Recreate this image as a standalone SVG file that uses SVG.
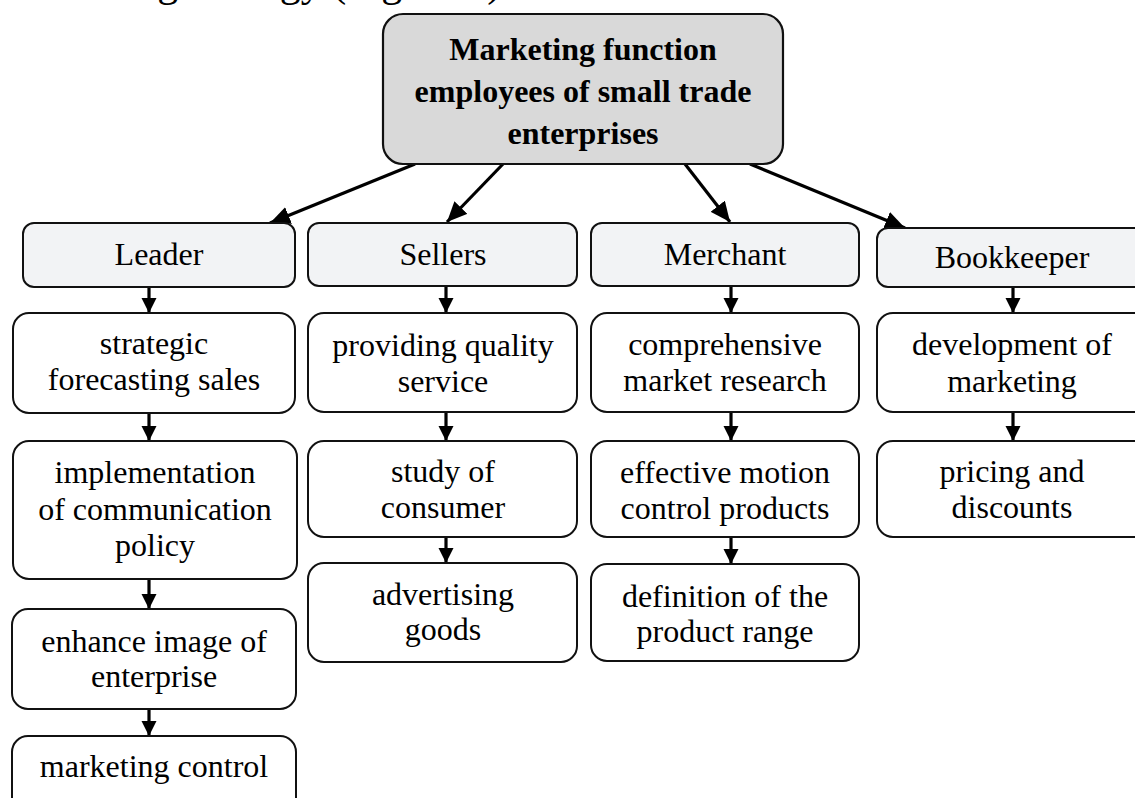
<svg xmlns="http://www.w3.org/2000/svg" width="1135" height="798" viewBox="0 0 1135 798">
  <style>
    text { font-family: "Liberation Serif", "Times New Roman", serif; fill: #000; text-anchor: middle; }
    .t { font-size: 32px; }
    .hd { font-size: 32px; font-weight: bold; }
    .body { font-size: 42px; text-anchor: start; }
    .root { fill: #d9d9d9; stroke: #111; stroke-width: 2.2; }
    .role { fill: #f2f3f5; stroke: #111; stroke-width: 2; }
    .task { fill: #fff; stroke: #111; stroke-width: 2; }
    .edge { stroke: #000; stroke-width: 3.2; fill: none; }
  </style>
  <defs>
    <marker id="ah" markerUnits="userSpaceOnUse" markerWidth="22" markerHeight="18" refX="20" refY="9" orient="auto">
      <path d="M0,0 L20,9 L0,18 Z" fill="#000"/>
    </marker>
    <marker id="av" markerUnits="userSpaceOnUse" markerWidth="16" markerHeight="16" refX="15" refY="8" orient="auto">
      <path d="M0,0.5 L15,8 L0,15.5 Z" fill="#000"/>
    </marker>
  </defs>
  <rect width="1135" height="798" fill="#fff"/>

  <!-- running text line above the chart, clipped by the page edge -->
  <text class="body" x="8" y="-4.5">marketing strategy (Figure 2).</text>

  <!-- connectors -->
  <g id="connectors">
    <line class="edge" x1="415" y1="164" x2="270" y2="223" marker-end="url(#ah)"/>
    <line class="edge" x1="503" y1="164" x2="447" y2="222" marker-end="url(#ah)"/>
    <line class="edge" x1="685" y1="164" x2="730" y2="222" marker-end="url(#ah)"/>
    <line class="edge" x1="750" y1="164" x2="905" y2="228" marker-end="url(#ah)"/>

    <line class="edge" x1="149" y1="287" x2="149" y2="313" marker-end="url(#av)"/>
    <line class="edge" x1="149" y1="413" x2="149" y2="441" marker-end="url(#av)"/>
    <line class="edge" x1="149" y1="579" x2="149" y2="609" marker-end="url(#av)"/>
    <line class="edge" x1="149" y1="709" x2="149" y2="736" marker-end="url(#av)"/>

    <line class="edge" x1="446" y1="286" x2="446" y2="313" marker-end="url(#av)"/>
    <line class="edge" x1="446" y1="412" x2="446" y2="441" marker-end="url(#av)"/>
    <line class="edge" x1="446" y1="537" x2="446" y2="563" marker-end="url(#av)"/>

    <line class="edge" x1="731" y1="286" x2="731" y2="313" marker-end="url(#av)"/>
    <line class="edge" x1="731" y1="412" x2="731" y2="441" marker-end="url(#av)"/>
    <line class="edge" x1="731" y1="537" x2="731" y2="564" marker-end="url(#av)"/>

    <line class="edge" x1="1013" y1="287" x2="1013" y2="313" marker-end="url(#av)"/>
    <line class="edge" x1="1013" y1="412" x2="1013" y2="441" marker-end="url(#av)"/>
  </g>

  <!-- root -->
  <g id="root">
    <rect class="root" x="383" y="14" width="400" height="150" rx="20"/>
    <text class="hd" x="583" y="60">Marketing function</text>
    <text class="hd" x="583" y="102">employees of small trade</text>
    <text class="hd" x="583" y="144">enterprises</text>
  </g>

  <!-- roles -->
  <g id="leader">
    <rect class="role" x="23" y="223" width="272" height="64" rx="11"/>
    <text class="t" x="159" y="265">Leader</text>
  </g>
  <g id="sellers">
    <rect class="role" x="308" y="223" width="269" height="63" rx="11"/>
    <text class="t" x="443" y="265">Sellers</text>
  </g>
  <g id="merchant">
    <rect class="role" x="591" y="223" width="268" height="63" rx="11"/>
    <text class="t" x="725" y="265">Merchant</text>
  </g>
  <g id="bookkeeper">
    <rect class="role" x="877" y="228" width="272" height="59" rx="11"/>
    <text class="t" x="1012" y="268">Bookkeeper</text>
  </g>

  <!-- leader tasks -->
  <g id="l1">
    <rect class="task" x="13" y="313" width="282" height="100" rx="16"/>
    <text class="t" x="154" y="354">strategic</text>
    <text class="t" x="154" y="390">forecasting sales</text>
  </g>
  <g id="l2">
    <rect class="task" x="13" y="441" width="284" height="138" rx="16"/>
    <text class="t" x="155" y="483">implementation</text>
    <text class="t" x="155" y="520">of communication</text>
    <text class="t" x="155" y="556">policy</text>
  </g>
  <g id="l3">
    <rect class="task" x="12" y="609" width="284" height="100" rx="16"/>
    <text class="t" x="154" y="652">enhance image of</text>
    <text class="t" x="154" y="687">enterprise</text>
  </g>
  <g id="l4">
    <rect class="task" x="12" y="736" width="284" height="100" rx="16"/>
    <text class="t" x="154" y="777">marketing control</text>
  </g>

  <!-- sellers tasks -->
  <g id="s1">
    <rect class="task" x="308" y="313" width="269" height="99" rx="16"/>
    <text class="t" x="443" y="356">providing quality</text>
    <text class="t" x="443" y="392">service</text>
  </g>
  <g id="s2">
    <rect class="task" x="308" y="441" width="269" height="96" rx="16"/>
    <text class="t" x="443" y="482">study of</text>
    <text class="t" x="443" y="518">consumer</text>
  </g>
  <g id="s3">
    <rect class="task" x="308" y="563" width="269" height="99" rx="16"/>
    <text class="t" x="443" y="605">advertising</text>
    <text class="t" x="443" y="640">goods</text>
  </g>

  <!-- merchant tasks -->
  <g id="m1">
    <rect class="task" x="591" y="313" width="268" height="99" rx="16"/>
    <text class="t" x="725" y="355">comprehensive</text>
    <text class="t" x="725" y="391">market research</text>
  </g>
  <g id="m2">
    <rect class="task" x="591" y="441" width="268" height="96" rx="16"/>
    <text class="t" x="725" y="483">effective motion</text>
    <text class="t" x="725" y="519">control products</text>
  </g>
  <g id="m3">
    <rect class="task" x="591" y="564" width="268" height="97" rx="16"/>
    <text class="t" x="725" y="607">definition of the</text>
    <text class="t" x="725" y="642">product range</text>
  </g>

  <!-- bookkeeper tasks -->
  <g id="b1">
    <rect class="task" x="877" y="313" width="272" height="99" rx="16"/>
    <text class="t" x="1012" y="355">development of</text>
    <text class="t" x="1012" y="392">marketing</text>
  </g>
  <g id="b2">
    <rect class="task" x="877" y="441" width="272" height="96" rx="16"/>
    <text class="t" x="1012" y="482">pricing and</text>
    <text class="t" x="1012" y="518">discounts</text>
  </g>
</svg>
